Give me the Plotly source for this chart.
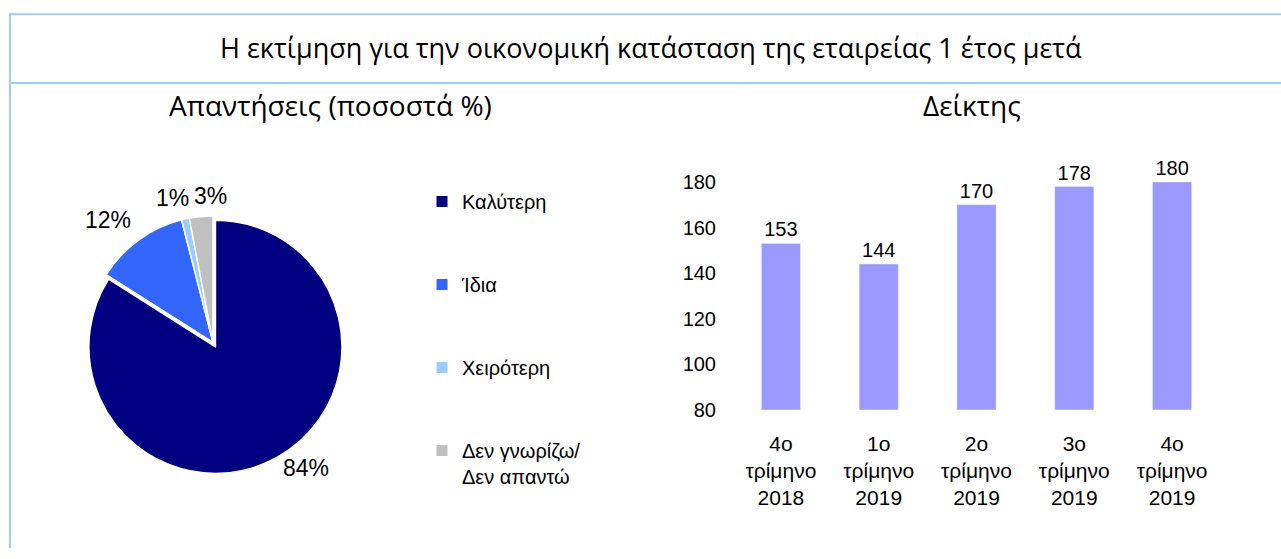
import plotly.graph_objects as go

# ---- data ----
pie_labels = ["Καλύτερη", "Ίδια", "Χειρότερη", "Δεν γνωρίζω/<br>Δεν απαντώ"]
pie_values = [84, 12, 1, 3]
pie_colors = ["#000080", "#3366FF", "#99CCFF", "#C0C0C0"]

bar_categories = ["4ο<br>τρίμηνο<br>2018", "1ο<br>τρίμηνο<br>2019", "2ο<br>τρίμηνο<br>2019",
                  "3ο<br>τρίμηνο<br>2019", "4ο<br>τρίμηνο<br>2019"]
bar_values = [153, 144, 170, 178, 180]
y_ticks = [80, 100, 120, 140, 160, 180]

title_text = "Η εκτίμηση για την οικονομική κατάσταση της εταιρείας 1 έτος μετά"
left_title = "Απαντήσεις (ποσοστά %)"
right_title = "Δείκτης"

W, H = 1281, 559
AX_FONT = "Liberation Sans, Arial, sans-serif"
TI_FONT = "Open Sans, sans-serif"

def px_x(p):
    return p / W

def px_y(p):
    return (H - p) / H

fig = go.Figure()

# pie: the three smaller slices get their labels as annotations
pie_textpos = ["outside", "none", "none", "none"]
pcx, pcy, phalf = 213, 345, 137
fig.add_trace(go.Pie(
    labels=pie_labels, values=pie_values,
    marker=dict(colors=pie_colors, line=dict(color="white", width=1.5)),
    sort=False, direction="clockwise", rotation=0,
    pull=[0.04, 0, 0, 0],
    texttemplate="%{value}%", textposition=pie_textpos,
    textfont=dict(family=AX_FONT, size=23, color="black"),
    showlegend=False, hoverinfo="label+percent",
    domain=dict(x=[px_x(pcx - phalf), px_x(pcx + phalf)],
                y=[px_y(pcy + phalf), px_y(pcy - phalf)]),
))

fig.add_trace(go.Bar(
    x=bar_categories, y=bar_values, marker_color="#9999FF",
    text=bar_values, textposition="outside", cliponaxis=False,
    textfont=dict(family=AX_FONT, size=20, color="black"),
    showlegend=False, width=0.4,
))

# legend entries (one group each so they can be spaced out)
for lab, col in zip(pie_labels, pie_colors):
    fig.add_trace(go.Scatter(
        x=[None], y=[None], mode="markers", name=lab,
        marker=dict(symbol="square", size=11, color=col),
        legendgroup=lab, showlegend=True,
    ))

border = "#99CCFF"
shapes = [
    dict(type="line", xref="paper", yref="paper", x0=px_x(9), x1=1, y0=px_y(3.5), y1=px_y(3.5),
         line=dict(color=border, width=2)),
    dict(type="line", xref="paper", yref="paper", x0=px_x(9), x1=1, y0=px_y(75), y1=px_y(75),
         line=dict(color=border, width=2)),
    dict(type="line", xref="paper", yref="paper", x0=px_x(10), x1=px_x(10), y0=px_y(2.5), y1=0,
         line=dict(color=border, width=2)),
]

annotations = [
    dict(text=title_text, x=px_x(651), y=px_y(37.5), xref="paper", yref="paper",
         showarrow=False, xanchor="center", yanchor="middle",
         font=dict(family=TI_FONT, size=27, color="black")),
    dict(text=left_title, x=px_x(330), y=px_y(97.5), xref="paper", yref="paper",
         showarrow=False, xanchor="center", yanchor="middle",
         font=dict(family=TI_FONT, size=28, color="black")),
    dict(text=right_title, x=px_x(972), y=px_y(97.5), xref="paper", yref="paper",
         showarrow=False, xanchor="center", yanchor="middle",
         font=dict(family=TI_FONT, size=28, color="black")),
    # labels of the smaller slices
    dict(text=f"{pie_values[1]}%", x=px_x(108), y=px_y(217.5), xref="paper", yref="paper",
         showarrow=False, xanchor="center", yanchor="middle",
         font=dict(family=AX_FONT, size=23, color="black")),
    dict(text=f"{pie_values[2]}%", x=px_x(172), y=px_y(195), xref="paper", yref="paper",
         showarrow=False, xanchor="center", yanchor="middle",
         font=dict(family=AX_FONT, size=23, color="black")),
    dict(text=f"{pie_values[3]}%", x=px_x(211), y=px_y(193), xref="paper", yref="paper",
         showarrow=False, xanchor="center", yanchor="middle",
         font=dict(family=AX_FONT, size=23, color="black")),
]

fig.update_layout(
    width=W, height=H, margin=dict(l=0, r=0, t=0, b=0),
    paper_bgcolor="white", plot_bgcolor="white",
    shapes=shapes, annotations=annotations,
    legend=dict(x=px_x(422), y=px_y(178), xanchor="left", yanchor="top",
                font=dict(family=AX_FONT, size=20, color="black"),
                tracegroupgap=54, valign="top", bgcolor="rgba(0,0,0,0)"),
    xaxis=dict(domain=[px_x(732), px_x(1221)], showgrid=False, showline=False, zeroline=False,
               ticks="outside", ticklen=15, tickcolor="rgba(0,0,0,0)",
               tickfont=dict(family=AX_FONT, size=21, color="black"), fixedrange=True),
    yaxis=dict(domain=[px_y(415), px_y(178)], range=[80, 180], tickvals=y_ticks,
               showgrid=False, showline=False, zeroline=False,
               ticks="outside", ticklen=11, tickcolor="rgba(0,0,0,0)",
               tickfont=dict(family=AX_FONT, size=20, color="black"), fixedrange=True),
    bargap=0.6,
)

fig.write_html("out.html")
